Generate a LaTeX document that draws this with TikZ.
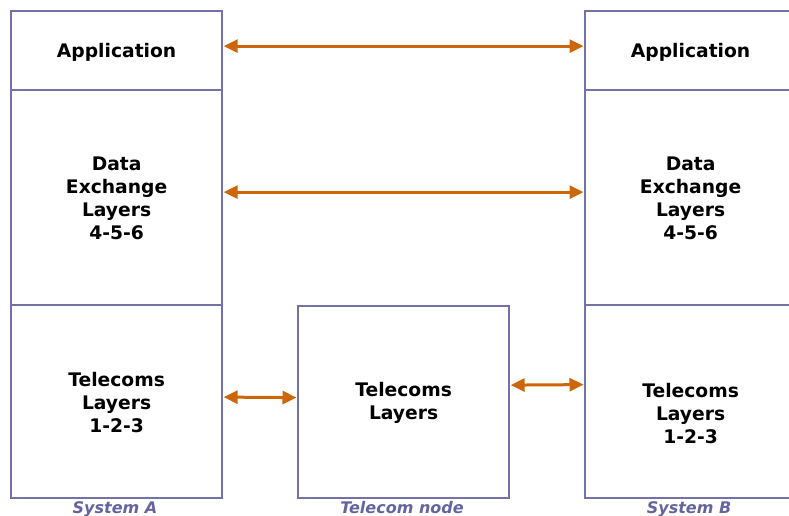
\documentclass[tikz,border=0pt]{standalone}
\usepackage{fontspec}
\setmainfont{DejaVu Sans}
\usetikzlibrary{arrows.meta}
\definecolor{frame}{HTML}{7272A8}
\definecolor{link}{HTML}{CC6608}
\definecolor{caption}{HTML}{6464A0}
\tikzset{
  layer/.style={draw=frame, line width=2.2pt, anchor=north west, inner sep=0pt,
    minimum width=211pt},
  layertext/.style={font=\fontsize{18.7}{23}\selectfont\bfseries, align=center, text=black},
  arr/.style={draw=link, line width=3pt,
    {Triangle[length=14pt,width=13pt]}-{Triangle[length=14pt,width=13pt]}, shorten <=0.5pt, shorten >=0.5pt},
  syscap/.style={font=\fontsize{16}{18}\selectfont\bfseries\itshape, text=caption, anchor=base}
}
\begin{document}
\begin{tikzpicture}[x=1pt,y=-1pt]
\useasboundingbox (0,0) rectangle (789,515);
% System A
\node[layer, minimum height=79pt] (appA) at (10,10) {};
\node[layer, minimum height=215pt] (dataA) at (10,89) {};
\node[layer, minimum height=193pt] (telA) at (10,304) {};
% System B (right side runs past the frame)
\node[layer, minimum height=79pt] (appB) at (584,10) {};
\node[layer, minimum height=215pt] (dataB) at (584,89) {};
\node[layer, minimum height=193pt] (telB) at (584,304) {};
% Telecom node
\node[layer, minimum height=192pt] (telN) at (297,305) {};

% Layer labels
\node[layertext] (tAppA) at ([yshift=-1.5pt]appA.center) {Application};
\node[layertext] (tDataA) at ([yshift=-1pt]dataA.center) {Data\\Exchange\\Layers\\4-5-6};
\node[layertext] (tTelA) at ([yshift=-1pt]telA.center) {Telecoms\\Layers\\1-2-3};
\node[layertext] (tAppB) at ([yshift=-1.5pt]appB.center) {Application};
\node[layertext] (tDataB) at ([yshift=-1pt]dataB.center) {Data\\Exchange\\Layers\\4-5-6};
\node[layertext] (tTelB) at ([yshift=-12pt]telB.center) {Telecoms\\Layers\\1-2-3};
\node[layertext] (tTelN) at ([yshift=-0.5pt]telN.center) {Telecoms\\Layers};

% Peer links
\draw[arr] ([yshift=4.5pt]appA.east) -- ([yshift=4.5pt]appB.west);
\draw[arr] ([yshift=5.5pt]dataA.east) -- ([yshift=5.5pt]dataB.west);
\draw[arr] ([yshift=4.5pt]telA.east) -- ([yshift=4.5pt]telN.west);
\draw[arr] ([yshift=17pt]telN.east) -- ([yshift=17pt]telB.west);

% Captions
\node[syscap] (capA) at (115,513) {System A};
\node[syscap] (capN) at (402,513) {Telecom node};
\node[syscap] (capB) at (689,513) {System B};
\end{tikzpicture}
\end{document}
